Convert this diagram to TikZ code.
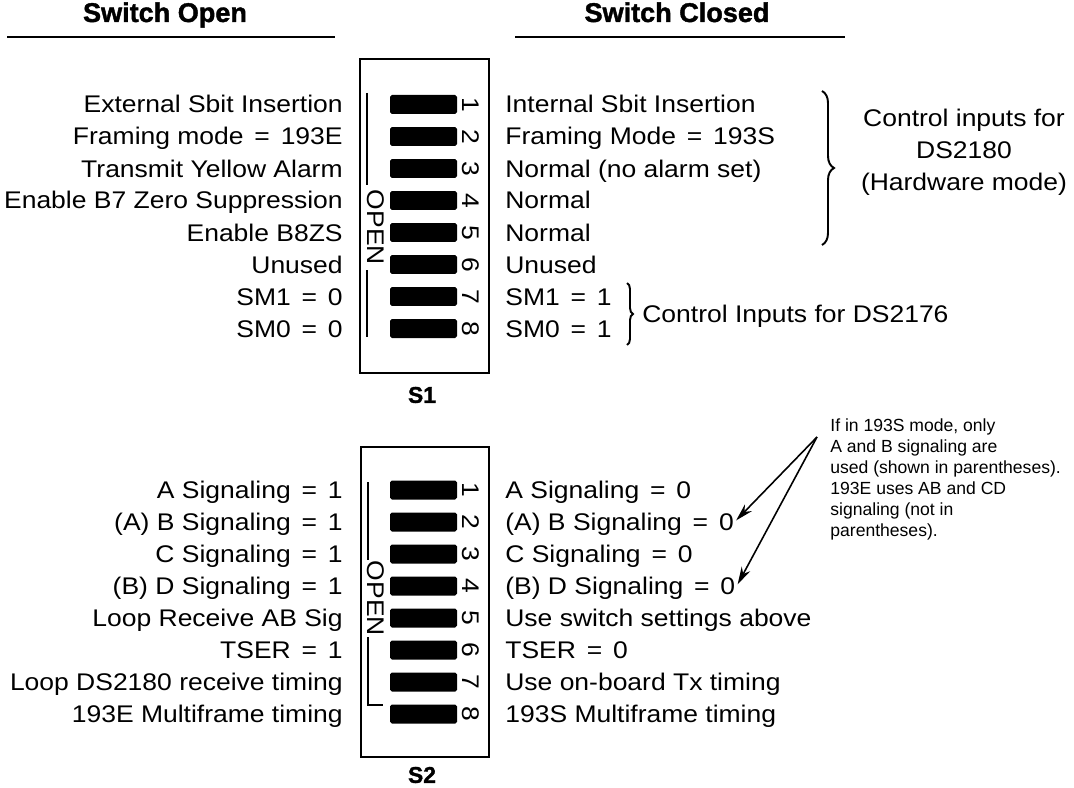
\documentclass[tikz,border=0pt]{standalone}
\usepackage{fontspec}
\setmainfont{Liberation Sans}[FakeStretch=1.1]
\newfontfamily\notefont{Liberation Sans}
\newfontfamily\headfont{Liberation Sans Bold}[FakeBold=1.5]
\usetikzlibrary{arrows.meta, decorations.pathreplacing}

% wider gaps round the equals sign
\newcommand{\eqsign}{\hspace{.45em}=\hspace{.45em}}

\begin{document}
\begin{tikzpicture}[x=0.02cm, y=-0.02cm, >={Stealth[length=10pt, width=5.5pt]},
    every node/.style={inner sep=0pt},
    txt/.style={font=\fontsize{13.7}{18.3}\selectfont},
    head/.style={font=\headfont\fontsize{15.4}{18}\selectfont, anchor=base},
    swname/.style={font=\headfont\fontsize{13}{15}\selectfont},
    lever/.style={fill=black, rounded corners=1pt, minimum width=1.34cm, minimum height=0.38cm},
    pin/.style={txt, rotate=-90},
    frame/.style={line width=1.4pt},
    brc/.style={decorate, line width=1.1pt},
    note/.style={font=\notefont\fontsize{10}{12}\selectfont, align=left, anchor=north west}]

  \useasboundingbox (0,0) rectangle (1074,787);

  % headings
  \node[head] (hopen) at (165,22) {Switch Open};
  \node[head] (hclosed) at (677,22) {Switch Closed};
  \draw[frame] (7,37) -- (335,37);
  \draw[frame] (515,37) -- (845,37);

  % S1
  \draw[frame] (360,59) rectangle (489,373);
  \draw[line width=0.8pt] (367,93) -- (367,185);
  \draw[line width=0.8pt] (367,270) -- (367,337);
  \node[txt, rotate=-90] (open1) at (375.5,227.5) {OPEN};
  \node[swname] (s1) at (422,395) {S1};
  \foreach \i in {1,...,8} {
    \node[lever] (la\i) at (423.5,{104.5+32*(\i-1)}) {};
    \node[pin] (na\i) at (471,{104.5+32*(\i-1)}) {\i};
  }
  \foreach \i/\off/\on in {
      1/External Sbit Insertion/Internal Sbit Insertion,
      2/Framing mode\eqsign 193E/Framing Mode\eqsign 193S,
      3/Transmit Yellow Alarm/Normal (no alarm set),
      4/Enable B7 Zero Suppression/Normal,
      5/Enable B8ZS/Normal,
      6/Unused/Unused,
      7/SM1\eqsign 0/SM1\eqsign 1,
      8/SM0\eqsign 0/SM0\eqsign 1} {
    \node[txt, anchor=base east] (oa\i) at (343,{113+32*(\i-1)}) {\off};
    \node[txt, anchor=base west] (ca\i) at (505,{113+32*(\i-1)}) {\on};
  }

  % braces for S1
  \draw[brc, decoration={brace, amplitude=0.24cm}] (822,91) -- (822,245);
  \node[txt, align=center] (hw) at (964,152) {Control inputs for\\DS2180\\(Hardware mode)};
  \draw[brc, decoration={brace, amplitude=0.12cm}] (627,283) -- (627,345);
  \node[txt, anchor=base west] (sm) at (642,322) {Control Inputs for DS2176};

  % S2
  \draw[frame] (361,447) rectangle (489,757);
  \draw[line width=0.8pt] (368,482) -- (368,560);
  \draw[line width=0.8pt] (368,637) -- (368,705) -- (383,705);
  \node[txt, rotate=-90] (open2) at (375.5,598.5) {OPEN};
  \node[swname] (s2) at (422,775) {S2};
  \foreach \i in {1,...,8} {
    \node[lever] (lb\i) at (423.5,{490+32*(\i-1)}) {};
    \node[pin] (nb\i) at (471,{490+32*(\i-1)}) {\i};
  }
  \foreach \i/\off/\on in {
      1/A Signaling\eqsign 1/A Signaling\eqsign 0,
      2/(A) B Signaling\eqsign 1/(A) B Signaling\eqsign 0,
      3/C Signaling\eqsign 1/C Signaling\eqsign 0,
      4/(B) D Signaling\eqsign 1/(B) D Signaling\eqsign 0,
      5/Loop Receive AB Sig/Use switch settings above,
      6/TSER\eqsign 1/TSER\eqsign 0,
      7/Loop DS2180 receive timing/Use on-board Tx timing,
      8/193E Multiframe timing/193S Multiframe timing} {
    \node[txt, anchor=base east] (ob\i) at (343,{498.6+32*(\i-1)}) {\off};
    \node[txt, anchor=base west] (cb\i) at (505,{498.6+32*(\i-1)}) {\on};
  }

  % note on 193S / 193E signaling
  \node[note] (remark) at (830,418) {If in 193S mode, only\\A and B signaling are\\used (shown in parentheses).\\193E uses AB and CD\\signaling (not in\\parentheses).};
  \coordinate (apex) at (817,437);
  \draw[->, line width=0.9pt] (apex) -- ([shift={(2,-4)}]cb2.east);
  \draw[->, line width=0.9pt] (apex) -- ([shift={(2,-4)}]cb4.east);
\end{tikzpicture}
\end{document}
